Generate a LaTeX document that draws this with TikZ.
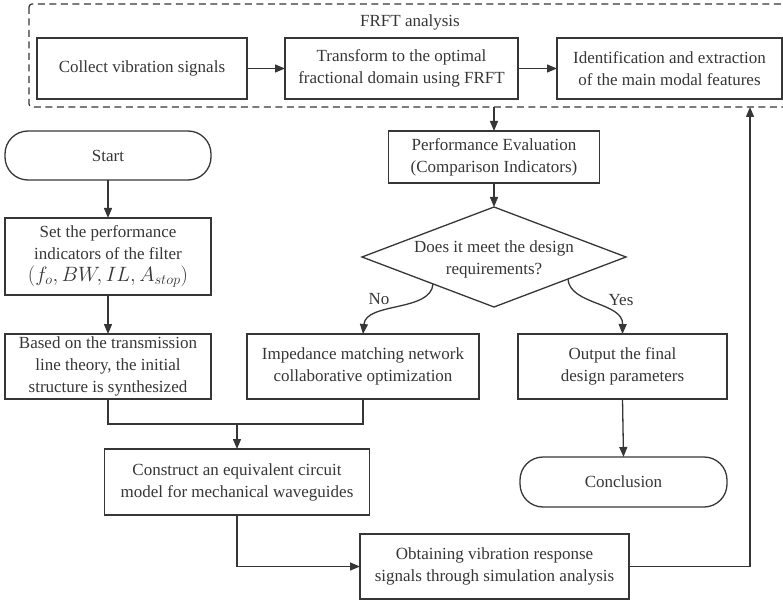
\documentclass[tikz,border=0pt]{standalone}
\usepackage{fontspec}
\setmainfont{Liberation Serif}
\usetikzlibrary{arrows.meta,shapes.geometric,calc}
\definecolor{ink}{HTML}{363636}
\begin{document}
\begin{tikzpicture}[x=1pt,y=-1pt,
  every node/.style={text=ink, font=\fontsize{17}{22}\selectfont},
  box/.style={draw=ink, line width=1.3pt, rectangle, align=center, inner sep=0pt, outer sep=0pt},
  term/.style={box, rounded corners=23pt},
  arr/.style={draw=ink, line width=1.3pt, -{Triangle[length=10pt,width=8pt]}},
  ln/.style={draw=ink, line width=1.3pt}]
\useasboundingbox (0,0) rectangle (783,601);
\begin{scope}
\clip (0,0) rectangle (783,601);
% FRFT dashed frame
\draw[ink, line width=1.2pt, dash pattern=on 7pt off 4.5pt, rounded corners=3pt] (29,4) rectangle (800,107);
\end{scope}
\node (frft) at (410,22) {FRFT analysis};
\node[box, minimum width=210pt, minimum height=61pt] (col) at (142,68.5) {Collect vibration signals};
\node[box, minimum width=233pt, minimum height=61pt] (tra) at (401.5,68.5) {Transform to the optimal\\fractional domain using FRFT};
\node[box, minimum width=225pt, minimum height=61pt] (ide) at (669.5,68.5) {Identification and extraction\\of the main modal features};
\node[box, minimum width=211pt, minimum height=52pt] (per) at (494,157) {Performance Evaluation\\(Comparison Indicators)};
\node[term, minimum width=206pt, minimum height=49pt] (sta) at (108,155.5) {Start};
\node[box, minimum width=206pt, minimum height=77pt] (set) at (108,256.5) {Set the performance\\indicators of the filter\\[0pt]{\fontsize{20.5}{22}\selectfont$(f_o, BW, IL, A_{stop})$}};
\node[box, minimum width=206pt, minimum height=65pt] (bas) at (108,366.5) {Based on the transmission\\line theory, the initial\\structure is synthesized};
\node[box, minimum width=232pt, minimum height=65pt] (imp) at (363,366.5) {Impedance matching network\\collaborative optimization};
\node[box, minimum width=209pt, minimum height=65pt] (out) at (622.5,366.5) {Output the final\\design parameters};
\node[diamond, draw=ink, line width=1.3pt, minimum width=264pt, minimum height=100pt, inner sep=0pt, outer sep=0pt] (dec) at (494,257) {};
\node[align=center] (dect) at (494,259) {Does it meet the design\\requirements?};
\node[box, minimum width=265pt, minimum height=66pt] (con) at (237,482) {Construct an equivalent circuit\\model for mechanical waveguides};
\node[term, minimum width=207pt, minimum height=50pt] (clu) at (623.5,482) {Conclusion};
\node[box, minimum width=269pt, minimum height=65pt] (obt) at (494.5,566.5) {Obtaining vibration response\\signals through simulation analysis};
\node (no) at (379,299) {No};
\node (yes) at (621,300) {Yes};
% coordinates
\coordinate (dbot) at (494,107);
\coordinate (rt) at (750,107);
\coordinate (mg) at (237,424);
\coordinate (nos) at ($(dec.south)!0.462!(dec.west)$);
\coordinate (yess) at ($(dec.south)!0.56!(dec.east)$);
% connectors
\draw[arr] (col.east) -- (tra.west);
\draw[arr] (tra.east) -- (ide.west);
\draw[arr] (dbot) -- (per.north);
\draw[arr] (per.south) -- (dec.north);
\draw[arr] (sta.south) -- (set.north);
\draw[arr] (set.south) -- (bas.north);
\draw[arr] (nos) .. controls (431,312) and (366,302) .. (imp.north);
\draw[arr] (yess) .. controls (570,305) and (623,302) .. (out.north);
\draw[ln] (bas.south) |- (mg) -| (imp.south);
\draw[arr] (mg) -- (con.north);
\draw[arr] (out.south) -- (clu.north);
\draw[arr] (con.south) |- (obt.west);
\draw[arr] (obt.east) -| (rt);
\end{tikzpicture}
\end{document}
